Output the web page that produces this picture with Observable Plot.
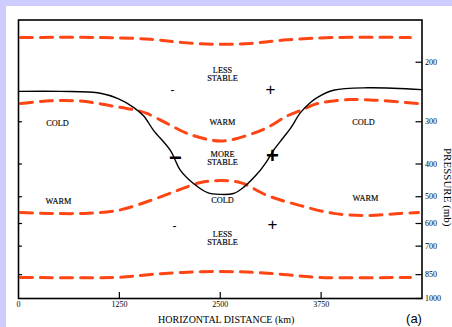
<!DOCTYPE html>
<html>
<head>
<meta charset="utf-8">
<script src="https://cdn.jsdelivr.net/npm/d3@7"></script>
<script src="https://cdn.jsdelivr.net/npm/@observablehq/plot@0.6"></script>
<style>
  html, body { margin: 0; padding: 0; background: #ccccff; width: 452px; height: 327px; overflow: hidden; }
  #panel { position: absolute; left: 6px; top: 6px; width: 446px; height: 321px; background: #fff; overflow: hidden; }
</style>
</head>
<body>
<div id="panel"></div>
<script>
// ---- data (km, mb) ----
const xTicks = [0, 1250, 2500, 3750];
const yTicksRight = [200, 300, 400, 500, 600, 700, 850, 1000];
const yTicksLeft = [300, 400, 500, 600, 700, 850];

// solid black surface
const solidKm = [0, 520, 1016, 1227, 1425, 1549, 1673, 1883, 2007, 2168, 2342, 2503, 2664, 2788, 2961, 3085, 3159, 3283, 3370, 3494, 3618, 3705, 3903, 4324, 5000];
const solidMb = [244, 244, 247, 256, 272, 288, 318, 365, 418, 457, 486, 492, 489, 469, 427, 390, 365, 334, 314, 282, 263, 254, 242, 238, 241];

// dashed isentropes
const dash1Km = [25, 1016, 1635, 2044, 2466, 2874, 3283, 3903, 4857];
const dash1Mb = [169, 169, 171, 175, 177, 176, 172, 169, 169];
const dash2Km = [25, 396, 805, 1140, 1474, 1598, 1846, 2094, 2416, 2590, 2837, 3085, 3333, 3494, 3705, 4113, 4522, 4944];
const dash2Mb = [265, 260, 261, 269, 278, 284, 304, 325, 341, 341, 329, 312, 288, 278, 265, 258, 260, 265];
const dash3Km = [25, 396, 805, 1227, 1635, 1970, 2255, 2503, 2751, 3085, 3494, 3903, 4324, 4733, 4956];
const dash3Mb = [557, 560, 560, 549, 513, 479, 454, 448, 454, 496, 531, 560, 568, 560, 557];
const dash4Km = [25, 1227, 1635, 2044, 2503, 2912, 3283, 3705, 4857];
const dash4Mb = [866, 866, 849, 837, 832, 837, 849, 866, 866];

// annotations
const wordText = ["LESS\nSTABLE", "COLD", "WARM", "COLD", "MORE\nSTABLE", "WARM", "COLD", "WARM", "LESS\nSTABLE"];
const wordKm   = [2528, 483, 2528, 4275, 2528, 496, 2528, 4300, 2528];
const wordMb   = [217, 303, 301, 301, 385, 516, 513, 506, 664];
const signText = ["-", "+", "-", "+"];
const signKm   = [1908, 3122, 1933, 3147];
const signMb   = [242, 241, 612, 604];
const bigSignText = ["\u2212", "+"];
const bigSignKm   = [1945, 3147];
const bigSignMb   = [385, 378];

const xLabel = "HORIZONTAL DISTANCE (km)";
const yLabel = "PRESSURE (mb)";
const panelTag = "(a)";

const toPts = (ks, ps) => ks.map((k, i) => ({km: k, mb: ps[i]}));
const dashes = [toPts(dash1Km, dash1Mb), toPts(dash2Km, dash2Mb), toPts(dash3Km, dash3Mb), toPts(dash4Km, dash4Mb)];
const words = wordText.map((t, i) => ({t, km: wordKm[i], mb: wordMb[i]}));
const signs = signText.map((t, i) => ({t, km: signKm[i], mb: signMb[i]}));
const bigSigns = bigSignText.map((t, i) => ({t, km: bigSignKm[i], mb: bigSignMb[i]}));

const serif = "Liberation Serif, Times New Roman, serif";
const sans = "Liberation Sans, Arial, sans-serif";
const red = "#ff4513";

const chart = Plot.plot({
  width: 446,
  height: 321,
  marginLeft: 12,
  marginRight: 30.5,
  marginTop: 13.5,
  marginBottom: 29,
  style: {fontFamily: serif, background: "transparent", color: "#000"},
  x: {domain: [0, 5000], axis: null},
  y: {type: "log", domain: [1000, 150], axis: null},
  marks: [
    ...dashes.map(d => Plot.line(d, {x: "km", y: "mb", curve: "catmull-rom", stroke: red, strokeWidth: 3, strokeDasharray: "12,8"})),
    Plot.line(toPts(solidKm, solidMb), {x: "km", y: "mb", curve: "catmull-rom", stroke: "#000", strokeWidth: 1.4}),
    Plot.text(words, {x: "km", y: "mb", text: "t", fontSize: 8.3, lineHeight: 1.03, fill: "#000", stroke: "#000", strokeWidth: 0.15, fontFamily: serif}),
    Plot.text(signs, {x: "km", y: "mb", text: "t", fontSize: d => d.t === "+" ? 17 : 12, fontWeight: d => d.t === "+" ? "normal" : "bold", fill: "#000", fontFamily: sans}),
    Plot.text(bigSigns, {x: "km", y: "mb", text: "t", fontSize: 22, fontWeight: "bold", fill: "#000", fontFamily: sans}),
    Plot.tickY(yTicksRight, {y: d => d, insetLeft: 397.5, stroke: "#000", strokeWidth: 1.2}),
    Plot.tickY(yTicksLeft, {y: d => d, insetRight: 399.5, stroke: "#000", strokeWidth: 1.2}),
    Plot.tickX(xTicks.slice(1), {x: d => d, insetTop: 272.5, stroke: "#000", strokeWidth: 1.2}),
    Plot.axisY({anchor: "right", ticks: yTicksRight, tickSize: 0, tickPadding: 3, fontSize: 8, tickFormat: d => String(d), label: null}),
    Plot.axisX({anchor: "bottom", ticks: xTicks, tickSize: 0, tickPadding: 3, fontSize: 8, tickFormat: d => String(d), label: null}),
    Plot.frame({stroke: "#000", strokeWidth: 1.6}),
    Plot.text([xLabel], {frameAnchor: "bottom", text: d => d, dx: 6, dy: 21.5, lineAnchor: "middle", fontSize: 10, fill: "#000"}),
    Plot.text([panelTag], {frameAnchor: "bottom-right", text: d => d, dx: -8, dy: 20.5, lineAnchor: "middle", textAnchor: "middle", fontSize: 13, fill: "#000", fontFamily: sans}),
    Plot.text([yLabel], {frameAnchor: "right", text: d => d, dx: 26, dy: 28, rotate: 90, lineAnchor: "middle", textAnchor: "middle", fontSize: 11, fill: "#000"})
  ]
});
document.getElementById("panel").appendChild(chart);
</script>
</body>
</html>
